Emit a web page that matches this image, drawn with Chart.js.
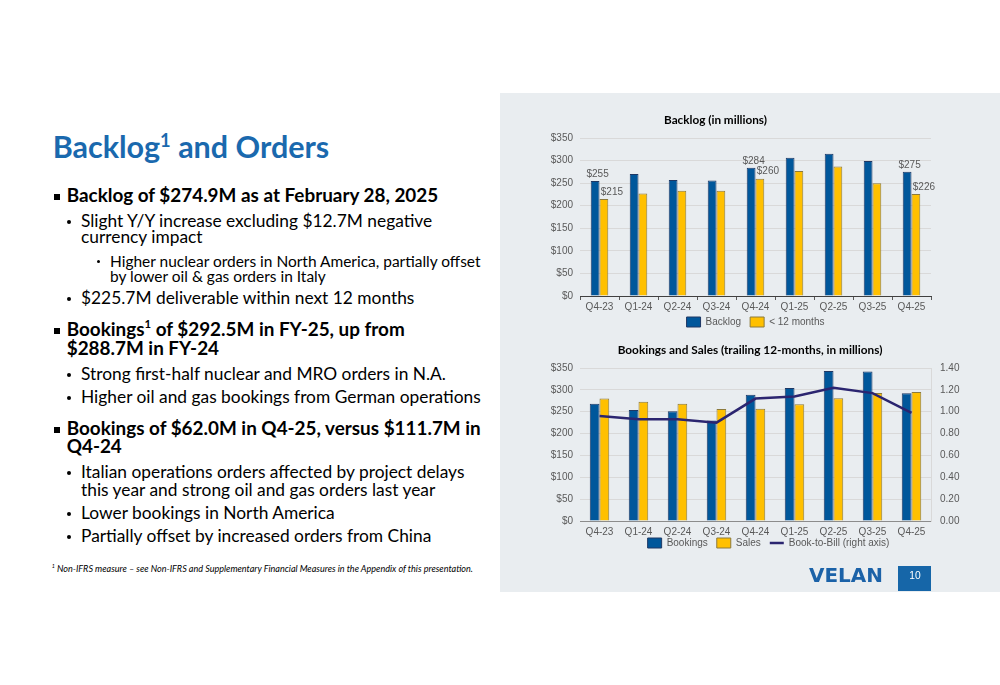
<!DOCTYPE html>
<html><head><meta charset="utf-8"><title>Backlog and Orders</title>
<script src="https://cdn.jsdelivr.net/npm/chart.js@4/dist/chart.umd.min.js"></script>
<style>
html,body{margin:0;padding:0;}
body{width:1000px;height:685px;position:relative;overflow:hidden;background:#fff;}
#panel{position:absolute;left:500px;top:93px;width:500px;height:499px;background:#E9EDF0;}
.ln{position:absolute;white-space:nowrap;line-height:1.2;color:#000;}
.ln sup{font-size:0.6em;position:relative;top:-0.62em;vertical-align:baseline;line-height:0;}
.mk{display:inline-block;width:0;height:0;}
.sq{position:absolute;width:6px;height:6px;background:#000;}
.dot{position:absolute;border-radius:50%;background:#000;}
canvas{position:absolute;left:500px;}
#pg{position:absolute;left:898px;top:566px;width:33px;height:25px;background:#1666A8;}
</style></head>
<body>
<div id="panel"></div>
<div id="pg"></div>
<canvas id="c1" width="500" height="237" style="top:105px;width:500px;height:237px"></canvas>
<canvas id="c2" width="500" height="232" style="top:335px;width:500px;height:232px"></canvas>
<script>
// ---------- chart data ----------
const quarters = ['Q4-23','Q1-24','Q2-24','Q3-24','Q4-24','Q1-25','Q2-25','Q3-25','Q4-25'];
const backlog = [255, 270, 257, 256, 284, 306, 315, 299, 275];
const backlogWithin12 = [215, 227, 233, 233, 260, 277, 287, 250, 226];
const labelledQuarterIdx = [0, 4, 8];
const bookings = [268, 254, 251, 230, 289, 304, 343, 342, 292.5];
const sales = [280, 273, 268, 256, 257, 267, 281, 293, 295];
const bookToBill = [0.96, 0.93, 0.93, 0.90, 1.12, 1.14, 1.22, 1.17, 0.99];
const dollarAxisMax = 350, dollarStep = 50;
const ratioAxisMax = 1.4, ratioStep = 0.2;
const titleBacklog = 'Backlog (in millions)';
const titleBookings = 'Bookings and Sales (trailing 12-months, in millions)';

// ---------- slide text ----------
const groups = {
  title:{size:30, weight:700, color:'#1A69AE', family:'Lato'},
  main:{size:18, weight:700, family:'Lato'},
  sub:{size:17, weight:400, family:'Lato'},
  ss:{size:15, weight:400, family:'Lato'},
  foot:{size:8.5, weight:400, italic:true, family:'Lato'},
  logo:{size:19, weight:700, color:'#1B62A8', family:'DejaVu Sans'},
  pg:{size:10.5, weight:400, color:'#FFFFFF', family:'Liberation Sans'}
};
const textLines = [
  {h:'Backlog<sup>1</sup> and Orders', x:52.7, b:158, w:276.6, g:'title'},
  {h:'Backlog of $274.9M as at February 28, 2025', x:66.7, b:201.7, w:375, g:'main', bullet:'sq'},
  {h:'Slight Y/Y increase excluding $12.7M negative', x:81, b:226.7, w:345.7, g:'sub', bullet:'dot'},
  {h:'currency impact', x:81, b:243.3, w:121.7, g:'sub'},
  {h:'Higher nuclear orders in North America, partially offset', x:110, b:266.7, w:371.7, g:'ss', bullet:'sdot'},
  {h:'by lower oil &amp; gas orders in Italy', x:110, b:281.7, w:215, g:'ss'},
  {h:'$225.7M deliverable within next 12 months', x:81, b:304.3, w:331.7, g:'sub', bullet:'dot'},
  {h:'Bookings<sup>1</sup> of $292.5M in FY-25, up from', x:66.7, b:335.5, w:340.6, g:'main', bullet:'sq'},
  {h:'$288.7M in FY-24', x:66.7, b:355, w:148.3, g:'main'},
  {h:'Strong first-half nuclear and MRO orders in N.A.', x:81, b:380, w:362.3, g:'sub', bullet:'dot'},
  {h:'Higher oil and gas bookings from German operations', x:81, b:403.3, w:400.7, g:'sub', bullet:'dot'},
  {h:'Bookings of $62.0M in Q4-25, versus $111.7M in', x:66.7, b:435, w:416.6, g:'main', bullet:'sq'},
  {h:'Q4-24', x:66.7, b:453.3, w:51.6, g:'main'},
  {h:'Italian operations orders affected by project delays', x:81, b:478.3, w:385, g:'sub', bullet:'dot'},
  {h:'this year and strong oil and gas orders last year', x:81, b:495.7, w:365, g:'sub'},
  {h:'Lower bookings in North America', x:81, b:519, w:252.3, g:'sub', bullet:'dot'},
  {h:'Partially offset by increased orders from China', x:81, b:542.3, w:349.7, g:'sub', bullet:'dot'},
  {h:'<sup>1</sup> Non-IFRS measure – see Non-IFRS and Supplementary Financial Measures in the Appendix of this presentation.', x:51.7, b:571.5, w:421.6, g:'foot'},
  {h:'VELAN', x:809, b:582, w:74, g:'logo'},
  {h:'10', x:909.3, b:579.3, w:11.4, g:'pg'}
];

const built = textLines.map(L => {
  const g = groups[L.g];
  const d = document.createElement('div');
  d.className = 'ln';
  d.style.left = L.x + 'px';
  d.style.fontFamily = g.family;
  d.style.fontWeight = g.weight;
  d.style.fontStyle = g.italic ? 'italic' : 'normal';
  d.style.color = g.color || '#000';
  d.style.fontSize = g.size + 'px';
  d.innerHTML = L.h + '<span class="mk"></span>';
  document.body.appendChild(d);
  return {L, d, g};
});
const sums = {};
built.forEach(o => { const s = sums[o.L.g] || (sums[o.L.g] = {t:0, m:0}); s.t += o.L.w; s.m += o.d.getBoundingClientRect().width; });
built.forEach(o => { const s = sums[o.L.g]; o.d.style.fontSize = (o.g.size * s.t / s.m) + 'px'; });
built.forEach(o => {
  const mk = o.d.querySelector('.mk');
  o.d.style.top = (o.L.b - mk.offsetTop) + 'px';
  const bt = o.L.bullet;
  if (bt) {
    const e = document.createElement('div');
    if (bt === 'sq') { e.className = 'sq'; e.style.left = '53.5px'; e.style.top = (o.L.b - 7.7) + 'px'; }
    else if (bt === 'dot') { e.className = 'dot'; e.style.width = e.style.height = '4px'; e.style.left = '66.7px'; e.style.top = (o.L.b - 7) + 'px'; }
    else { e.className = 'dot'; e.style.width = e.style.height = '3.3px'; e.style.left = '96.7px'; e.style.top = (o.L.b - 6.6) + 'px'; }
    document.body.appendChild(e);
  }
});

// ---------- charts ----------
const BLUE = '#00579B', BLUE_EDGE = '#1F3864';
const YELLOW = '#FFC000', YELLOW_EDGE = '#8C7A3C';
const LINE = '#2B2570';
const TICK = '#595959', GRID = '#D9D9D9';
const AX_FONT = {family:'Liberation Sans', size:10};

function fitFont(text, target) {
  const c = document.createElement('canvas').getContext('2d');
  c.font = 'bold 100px Lato';
  return 100 * target / c.measureText(text).width;
}

function legendOpts() {
  return {
    position:'bottom', fullSize:false,
    labels:{
      font:AX_FONT, color:TICK, boxWidth:14, boxHeight:10, usePointStyle:true, pointStyleWidth:14, padding:9,
      sort:(a,b) => a.datasetIndex - b.datasetIndex,
      generateLabels(chart) {
        const items = Chart.defaults.plugins.legend.labels.generateLabels(chart);
        items.forEach(it => {
          const ds = chart.data.datasets[it.datasetIndex];
          it.pointStyle = ds.type === 'line' ? 'line' : 'rect';
          if (ds.type === 'line') { it.lineWidth = ds.borderWidth; it.strokeStyle = ds.borderColor; }
        });
        return items;
      }
    }
  };
}

const legendShift = {
  id:'legendShift',
  afterLayout(chart, args, opts) {
    const lg = chart.legend; if (!lg) return;
    const dx = opts.dx || 0, dy = opts.dy || 0;
    lg.left += dx; lg.right += dx; lg.top += dy; lg.bottom += dy;
  }
};

const barValueLabels = {
  id:'barValueLabels',
  afterDatasetsDraw(chart, args, opts) {
    if (!opts.indices) return;
    const ctx = chart.ctx;
    ctx.save();
    ctx.font = '10px "Liberation Sans"';
    ctx.fillStyle = TICK; ctx.textAlign = 'center'; ctx.textBaseline = 'middle';
    chart.data.datasets.forEach((ds, di) => {
      const meta = chart.getDatasetMeta(di);
      opts.indices.forEach(i => {
        const el = meta.data[i];
        ctx.fillText('$' + ds.data[i], el.x + (di === 0 ? 2.5 : 8), el.y - 7);
      });
    });
    ctx.restore();
  }
};

function titleOpts(text, target, canvasTop, centerY, plotTop) {
  const s = fitFont(text, target);
  const pt = centerY - canvasTop - 0.6 * s;
  const pb = plotTop - canvasTop - pt - 1.2 * s;
  return {display:true, text, color:'#000', font:{family:'Lato', weight:'bold', size:s, lineHeight:1.2}, padding:{top:pt, bottom:pb}};
}

const dollarY = {
  min:0, max:dollarAxisMax,
  ticks:{stepSize:dollarStep, callback:v => '$' + v, color:TICK, font:AX_FONT, padding:7},
  grid:{drawTicks:false, color:ctx => ctx.tick && ctx.tick.value === 0 ? 'rgba(0,0,0,0)' : GRID},
  border:{display:false},
  afterFit(s) { s.width = 80; }
};

new Chart(document.getElementById('c1'), {
  type:'bar',
  data:{labels:quarters, datasets:[
    {label:'Backlog', data:backlog, backgroundColor:BLUE, borderColor:BLUE_EDGE, borderWidth:1, categoryPercentage:0.45, barPercentage:1},
    {label:'< 12 months', data:backlogWithin12, backgroundColor:YELLOW, borderColor:YELLOW_EDGE, borderWidth:1, categoryPercentage:0.45, barPercentage:1}
  ]},
  options:{
    responsive:false, animation:false,
    layout:{padding:{left:0, right:69, top:0, bottom:0}},
    plugins:{
      title:titleOpts(titleBacklog, 103, 105, 120, 138),
      legend:legendOpts(),
      tooltip:{enabled:false},
      barValueLabels:{indices:labelledQuarterIdx},
      legendShift:{dx:0, dy:-5}
    },
    scales:{
      x:{
        grid:{display:true, offset:true, drawOnChartArea:false, drawTicks:true, tickLength:4, color:TICK},
        border:{display:true, color:'#404040', width:1},
        ticks:{color:TICK, font:AX_FONT, padding:1, maxRotation:0, minRotation:0, autoSkip:false},
        afterFit(s) { s.height = 17; }
      },
      y:dollarY
    }
  },
  plugins:[barValueLabels, legendShift]
});

new Chart(document.getElementById('c2'), {
  type:'bar',
  data:{labels:quarters, datasets:[
    {label:'Bookings', data:bookings, backgroundColor:BLUE, borderColor:BLUE_EDGE, borderWidth:1, categoryPercentage:0.5, barPercentage:1, yAxisID:'y'},
    {label:'Sales', data:sales, backgroundColor:YELLOW, borderColor:YELLOW_EDGE, borderWidth:1, categoryPercentage:0.5, barPercentage:1, yAxisID:'y'},
    {type:'line', label:'Book-to-Bill (right axis)', data:bookToBill, borderColor:LINE, backgroundColor:LINE, borderWidth:2.5, pointRadius:0, tension:0, fill:false, yAxisID:'y1', order:-1}
  ]},
  options:{
    responsive:false, animation:false,
    layout:{padding:{left:0, right:0, top:0, bottom:0}},
    plugins:{
      title:titleOpts(titleBookings, 265, 335, 350, 368),
      legend:legendOpts(),
      tooltip:{enabled:false},
      legendShift:{dx:13, dy:-9}
    },
    scales:{
      x:{
        grid:{display:false, drawTicks:false, tickLength:0},
        border:{display:true, color:'#8C8C8C', width:1},
        ticks:{color:TICK, font:AX_FONT, padding:5, maxRotation:0, minRotation:0, autoSkip:false},
        afterFit(s) { s.height = 17; }
      },
      y:Object.assign({}, dollarY, {position:'left'}),
      y1:{
        position:'right', min:0, max:ratioAxisMax,
        ticks:{stepSize:ratioStep, callback:v => Number(v).toFixed(2), color:TICK, font:AX_FONT, padding:9},
        grid:{drawOnChartArea:false, drawTicks:false},
        border:{display:true, color:GRID},
        afterFit(s) { s.width = 69; }
      }
    }
  },
  plugins:[legendShift]
});
</script>
</body></html>
